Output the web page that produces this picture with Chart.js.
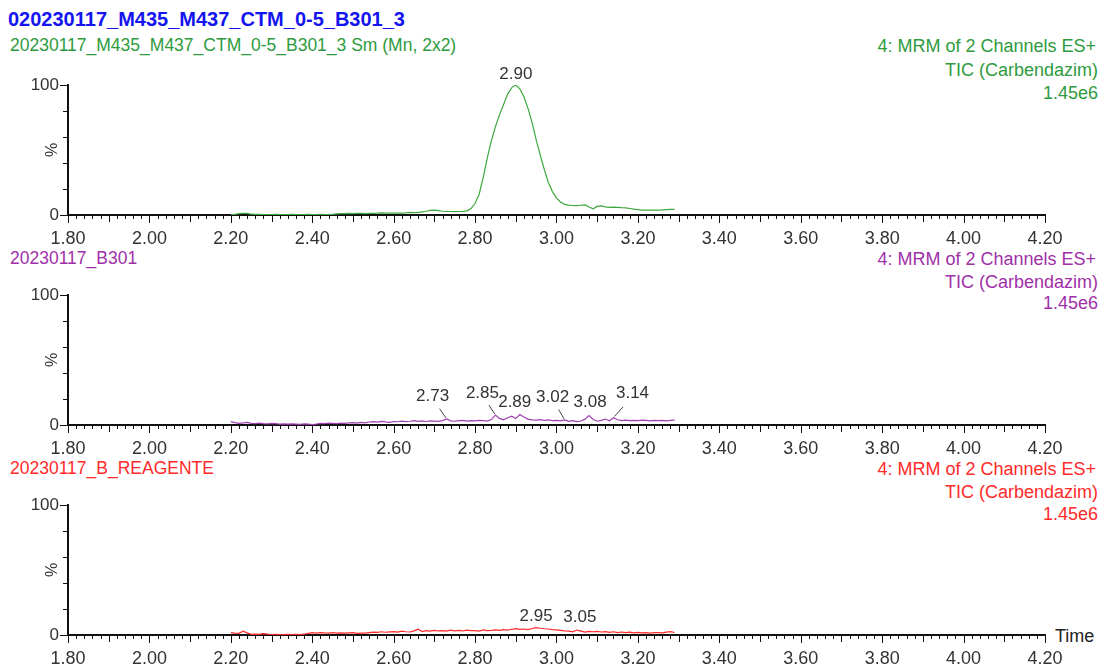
<!DOCTYPE html>
<html>
<head>
<meta charset="utf-8">
<script src="https://cdn.jsdelivr.net/npm/chart.js@4.4.1/dist/chart.umd.min.js"></script>
<style>
  body { margin: 0; background: #fff; font-family: "Liberation Sans", Arial, sans-serif; }
  #page { position: relative; width: 1104px; height: 664px; overflow: hidden; }
  .txt { position: absolute; white-space: nowrap; font-size: 18px; line-height: 1; }
  .r { right: 6px; text-align: right; }
  .sub { font-size: 17.5px; left: 10px; }
  canvas { position: absolute; left: 0; }
</style>
</head>
<body>
<div id="page">
  <div class="txt" style="left:8px;top:9px;font-size:20px;font-weight:bold;color:#1414f0">020230117_M435_M437_CTM_0-5_B301_3</div>
  <div class="txt sub" style="top:37px;color:#2e9b3e">20230117_M435_M437_CTM_0-5_B301_3 Sm (Mn, 2x2)</div>
  <div class="txt r" style="top:37px;right:8px;color:#2e9b3e">4: MRM of 2 Channels ES+</div>
  <div class="txt r" style="top:61px;color:#2e9b3e">TIC (Carbendazim)</div>
  <div class="txt r" style="top:84px;color:#2e9b3e">1.45e6</div>

  <div class="txt sub" style="top:250px;color:#a030a8">20230117_B301</div>
  <div class="txt r" style="top:250px;right:8px;color:#a030a8">4: MRM of 2 Channels ES+</div>
  <div class="txt r" style="top:273px;color:#a030a8">TIC (Carbendazim)</div>
  <div class="txt r" style="top:294px;color:#a030a8">1.45e6</div>

  <div class="txt sub" style="top:460px;color:#ff2a2a">20230117_B_REAGENTE</div>
  <div class="txt r" style="top:460px;right:8px;color:#ff2a2a">4: MRM of 2 Channels ES+</div>
  <div class="txt r" style="top:483px;color:#ff2a2a">TIC (Carbendazim)</div>
  <div class="txt r" style="top:505px;color:#ff2a2a">1.45e6</div>

  <div class="txt" style="left:1055px;top:627px;color:#222">Time</div>

  <canvas id="c1" width="1104" height="191" style="top:60px"></canvas>
  <canvas id="c2" width="1104" height="191" style="top:270px"></canvas>
  <canvas id="c3" width="1104" height="191" style="top:480px"></canvas>
</div>
<script>
// retention times (min)
const times = [
  2.20, 2.21, 2.22, 2.23, 2.24, 2.25, 2.26, 2.27, 2.28, 2.29,
  2.30, 2.31, 2.32, 2.33, 2.34, 2.35, 2.36, 2.37, 2.38, 2.39,
  2.40, 2.41, 2.42, 2.43, 2.44, 2.45, 2.46, 2.47, 2.48, 2.49,
  2.50, 2.51, 2.52, 2.53, 2.54, 2.55, 2.56, 2.57, 2.58, 2.59,
  2.60, 2.61, 2.62, 2.63, 2.64, 2.65, 2.66, 2.67, 2.68, 2.69,
  2.70, 2.71, 2.72, 2.73, 2.74, 2.75, 2.76, 2.77, 2.78, 2.79,
  2.80, 2.81, 2.82, 2.83, 2.84, 2.85, 2.86, 2.87, 2.88, 2.89,
  2.90, 2.91, 2.92, 2.93, 2.94, 2.95, 2.96, 2.97, 2.98, 2.99,
  3.00, 3.01, 3.02, 3.03, 3.04, 3.05, 3.06, 3.07, 3.08, 3.09,
  3.10, 3.11, 3.12, 3.13, 3.14, 3.15, 3.16, 3.17, 3.18, 3.19,
  3.20, 3.21, 3.22, 3.23, 3.24, 3.25, 3.26, 3.27, 3.28, 3.29
];

// % intensity, sample (Sm)
const smValues = [
  0.4, 0.5, 1.0, 1.3, 1.2, 0.6, 0.5, 0.5, 0.4, 0.4,
  0.4, 0.5, 0.4, 0.4, 0.4, 0.5, 0.4, 0.4, 0.4, 0.5,
  0.4, 0.4, 0.5, 0.4, 0.4, 0.5, 0.9, 1.1, 1.1, 1.2,
  1.1, 1.2, 1.2, 1.1, 1.2, 1.3, 1.4, 1.6, 1.4, 1.5,
  1.5, 1.4, 1.5, 1.6, 2.0, 1.8, 1.9, 2.4, 2.9, 3.5,
  3.7, 3.3, 2.9, 2.7, 2.7, 2.6, 2.7, 2.8, 3.2, 5.0,
  9, 16, 29, 44, 57, 68, 77, 85, 93, 98,
  100, 97, 91, 82, 71, 58, 46, 35, 25, 18,
  13, 10, 8.2, 7.6, 7.3, 7.2, 7.5, 7.8, 6.1, 4.8,
  6.6, 7.0, 6.2, 5.9, 6.0, 5.8, 5.6, 5.5, 5.0, 4.5,
  4.2, 3.8, 3.7, 3.8, 3.7, 3.8, 3.9, 4.2, 4.4, 4.3
];

// % intensity, B301 blank
const b301Values = [
  2.6, 1.8, 1.3, 1.6, 2.0, 1.2, 1.0, 1.4, 1.1, 0.9,
  1.2, 1.0, 0.7, 0.8, 0.6, 0.9, 0.7, 0.5, 0.8, 0.6,
  0.4, 0.7, 1.2, 1.0, 1.5, 1.3, 1.0, 1.4, 1.2, 1.6,
  1.8, 1.5, 2.0, 1.7, 2.3, 2.6, 2.2, 2.8, 2.4, 2.1,
  2.7, 2.5, 3.0, 2.6, 2.9, 3.3, 2.8, 3.1, 2.7, 3.2,
  3.0, 2.8, 3.4, 4.6, 3.2, 2.9, 3.3, 3.6, 3.0, 3.4,
  3.1, 3.5, 3.3, 3.0, 4.2, 7.6, 5.1, 4.0, 5.6, 6.8,
  5.0, 8.0, 6.2, 4.5, 4.0, 3.8, 4.2, 3.6, 3.9, 3.4,
  3.6, 3.2, 3.9, 2.8, 3.4, 2.6, 3.1, 4.5, 7.3, 4.2,
  2.9, 3.6, 4.6, 3.2, 5.6, 4.0, 3.3, 3.7, 3.4, 3.6,
  3.3, 3.7, 3.5, 3.2, 3.6, 3.4, 3.5, 3.2, 3.6, 3.8
];

// % intensity, reagent blank
const reagenteValues = [
  1.8, 1.4, 1.3, 3.0, 1.6, 0.5, 0.6, 0.5, 1.0, 0.6,
  0.4, 0.5, 0.4, 0.4, 0.5, 0.4, 0.5, 0.4, 0.6, 1.2,
  1.8, 1.5, 1.9, 1.6, 1.4, 1.8, 1.5, 1.7, 1.4, 1.6,
  1.8, 1.3, 1.5, 1.4, 1.8, 2.2, 2.0, 2.5, 2.1, 2.4,
  2.6, 2.2, 2.9, 2.5, 2.3, 3.2, 4.4, 2.6, 3.3, 3.0,
  3.6, 3.1, 3.4, 3.0, 3.8, 3.2, 3.5, 3.1, 3.7, 3.3,
  3.4, 3.0, 3.9, 3.4, 3.6, 4.0, 3.5, 4.2, 3.8, 4.4,
  4.9, 4.3, 4.6, 4.2, 5.0, 5.6, 5.2, 4.8, 4.6, 4.2,
  3.9, 3.6, 3.2, 3.0, 2.4, 3.8, 3.0, 2.2, 2.8, 2.5,
  2.8, 2.3, 2.6, 2.1, 2.5, 1.9, 2.3, 1.8, 2.2, 1.7,
  2.0, 1.6, 1.9, 1.5, 1.8, 1.9, 1.7, 2.2, 2.6, 1.9
];

// labelled peaks (retention time)
const smPeaks = [2.90];
const b301Peaks = [2.73, 2.85, 2.89, 3.02, 3.08, 3.14];
const reagentePeaks = [2.95, 3.05];

// axis range and tick labels
const xMin = 1.80, xMax = 4.20;
const yTickLabels = { 0: '0', 100: '100' };

// where each peak label sits relative to its peak (px), and if a leader line is drawn
const smLabelPos = [[0, -11, false]];
const b301LabelPos = [[-14, -23, true], [-13, -22, true], [3, -14, false], [-12, -23, true], [1, -13, false], [19, -24, true]];
const reagenteLabelPos = [[0, -11, false], [3, -13, false]];

const xTickFont = { family: 'Liberation Sans', size: 18 };
const yTickFont = { family: 'Liberation Sans', size: 17 };

// tick marks, "%" and peak labels
const msPlugin = {
  id: 'msPlugin',
  afterDraw(chart, args, opts) {
    const ctx = chart.ctx;
    const area = chart.chartArea;
    const xs = chart.scales.x, ys = chart.scales.y;
    ctx.save();
    ctx.strokeStyle = '#111';
    ctx.lineWidth = 1;
    ctx.beginPath();
    xs.ticks.forEach(t => {
      const h = Math.round(t.value * 100);
      const len = h % 20 === 0 ? 8 : (h % 10 === 0 ? 7 : 4);
      const px = Math.round(xs.getPixelForValue(t.value)) + 0.5;
      ctx.moveTo(px, area.bottom);
      ctx.lineTo(px, area.bottom + len);
    });
    ys.ticks.forEach(t => {
      const len = t.value % 100 === 0 ? 8 : (t.value === 50 ? 7 : 5);
      const py = Math.round(ys.getPixelForValue(t.value)) + 0.5;
      ctx.moveTo(area.left, py);
      ctx.lineTo(area.left - len, py);
    });
    ctx.stroke();

    ctx.fillStyle = '#333';
    ctx.font = '16px "Liberation Sans"';
    ctx.textAlign = 'center';
    ctx.textBaseline = 'middle';
    ctx.save();
    ctx.translate(area.left - 15, ys.getPixelForValue(50));
    ctx.rotate(-Math.PI / 2);
    ctx.fillText('%', 0, 0);
    ctx.restore();

    ctx.font = '17px "Liberation Sans"';
    const ds = chart.data.datasets[0].data;
    opts.peaks.forEach((p, k) => {
      const pt = ds.find(d => Math.abs(d.x - p) < 0.001);
      const px = xs.getPixelForValue(pt.x);
      const py = ys.getPixelForValue(pt.y);
      const [dx, dy, leader] = opts.pos[k];
      ctx.fillText(p.toFixed(2), px + dx, py + dy);
      if (leader) {
        ctx.beginPath();
        ctx.strokeStyle = '#444';
        ctx.moveTo(px + dx * 0.5, py + dy * 0.45);
        ctx.lineTo(px + dx * 0.05, py + dy * 0.05);
        ctx.stroke();
      }
    });
    ctx.restore();
  }
};

function makePanel(id, values, color, peaks, pos) {
  return new Chart(document.getElementById(id), {
    type: 'line',
    data: {
      datasets: [{
        data: times.map((t, i) => ({ x: t, y: values[i] })),
        borderColor: color,
        borderWidth: 1.2,
        pointRadius: 0,
        tension: 0,
        fill: false
      }]
    },
    options: {
      responsive: false,
      animation: false,
      layout: { padding: { top: 25, right: 59, left: 0, bottom: 0 } },
      plugins: {
        legend: { display: false },
        tooltip: { enabled: false },
        msPlugin: { peaks: peaks, pos: pos }
      },
      scales: {
        x: {
          type: 'linear',
          min: xMin,
          max: xMax,
          afterFit: s => { s.height = 36; },
          grid: { drawOnChartArea: false, tickLength: 7, tickColor: 'rgba(0,0,0,0)' },
          border: { display: true, color: '#111', width: 2 },
          ticks: {
            stepSize: 0.02,
            autoSkip: false,
            maxRotation: 0,
            minRotation: 0,
            padding: 6,
            color: '#333',
            font: xTickFont,
            callback: v => (Math.round(v * 100) % 20 === 0 ? v.toFixed(2) : '')
          }
        },
        y: {
          min: 0,
          max: 100,
          afterFit: s => { s.width = 68; },
          grid: { drawOnChartArea: false, tickLength: 8, tickColor: 'rgba(0,0,0,0)' },
          border: { display: true, color: '#111', width: 2 },
          ticks: {
            stepSize: 10,
            padding: 1,
            color: '#333',
            font: yTickFont,
            callback: v => yTickLabels[v] || ''
          }
        }
      }
    },
    plugins: [msPlugin]
  });
}

makePanel('c1', smValues, '#3ea83e', smPeaks, smLabelPos);
makePanel('c2', b301Values, '#a040b0', b301Peaks, b301LabelPos);
makePanel('c3', reagenteValues, '#ff2a2a', reagentePeaks, reagenteLabelPos);
</script>
</body>
</html>
